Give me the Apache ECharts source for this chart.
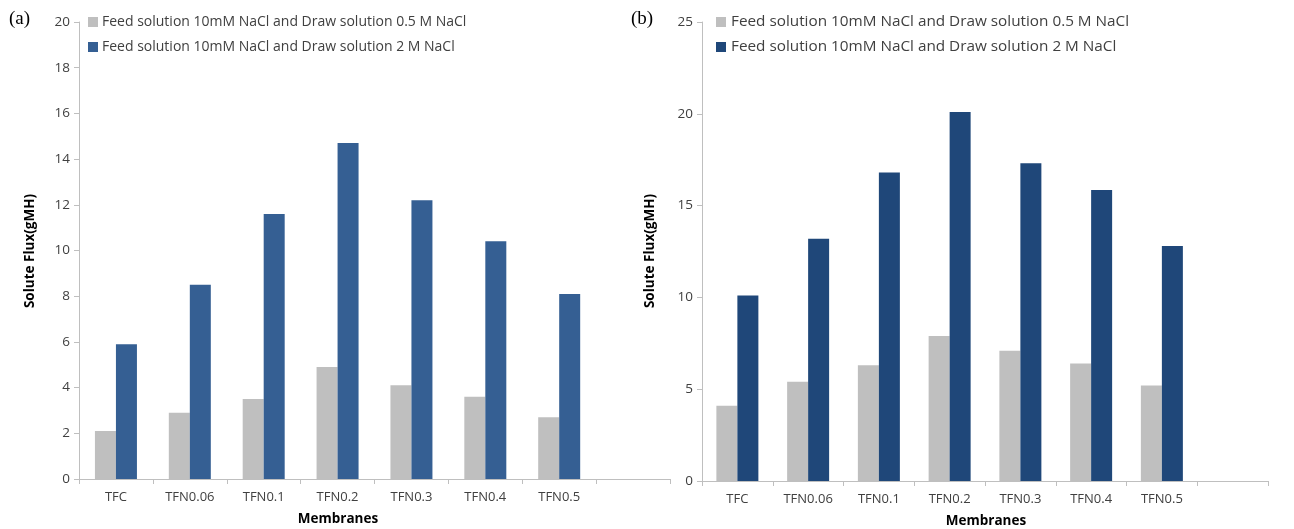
<!DOCTYPE html>
<html><head><meta charset="utf-8">
<script src="https://cdn.jsdelivr.net/npm/echarts@6/dist/echarts.min.js"></script>
<style>html,body{margin:0;padding:0;background:#fff}#c{width:1294px;height:529px}</style>
</head><body><div id="c"></div>
<script>
const categories = ['TFC','TFN0.06','TFN0.1','TFN0.2','TFN0.3','TFN0.4','TFN0.5',''];
const seriesNames = ['Feed solution 10mM NaCl and Draw solution 0.5 M NaCl','Feed solution 10mM NaCl and Draw solution 2 M NaCl'];
const aLow = [2.1, 2.9, 3.5, 4.9, 4.1, 3.6, 2.7];
const aHigh = [5.9, 8.5, 11.6, 14.7, 12.2, 10.4, 8.1];
const bLow = [4.1, 5.4, 6.3, 7.9, 7.1, 6.4, 5.2];
const bHigh = [10.1, 13.2, 16.8, 20.1, 17.3, 15.85, 12.8];
const yTitle = 'Solute Flux(gMH)';
const xTitle = 'Membranes';

const FONT = 'Open Sans';
const axisCol = '#bfbfbf';
const gray = '#bfbfbf';
const blueA = '#355f93';
const blueB = '#1f4779';

function xAxis(gi){return {type:'category',gridIndex:gi,data:categories,
  axisLine:{lineStyle:{color:axisCol,width:1}},axisTick:{show:true,length:5,lineStyle:{color:axisCol}},
  axisLabel:{color:'#404040',fontFamily:FONT,fontSize:13,margin:12}};}
function yAxis(gi,max,iv){return {type:'value',gridIndex:gi,min:0,max:max,interval:iv,
  axisLine:{show:true,lineStyle:{color:axisCol}},axisTick:{show:true,length:5,lineStyle:{color:axisCol}},
  splitLine:{show:false},axisLabel:{color:'#404040',fontFamily:FONT,fontSize:13.5,margin:9}};}
function bar(name,data,color,gi){return {name:name,type:'bar',xAxisIndex:gi,yAxisIndex:gi,data:data,
  barWidth:21,barGap:'0%',itemStyle:{color:color},animation:false};}

const chart = echarts.init(document.getElementById('c'));
chart.setOption({
  animation:false,
  grid:[{left:79,top:22,bottom:50,right:624},{left:702,top:22,bottom:48,right:26}],
  xAxis:[xAxis(0),xAxis(1)],
  yAxis:[yAxis(0,20,2),yAxis(1,25,5)],
  title:[
    {text:'(a)',left:4,top:5,textStyle:{fontFamily:'Liberation Serif',fontSize:19,fontWeight:'normal',color:'#000'}},
    {text:'(b)',left:626,top:5,textStyle:{fontFamily:'Liberation Serif',fontSize:19,fontWeight:'normal',color:'#000'}}
  ],
  graphic:[
    {type:'text',x:30,y:251,rotation:Math.PI/2,style:{text:yTitle,fill:'#000',font:'bold 13.5px "Open Sans"',textAlign:'center',textVerticalAlign:'middle'}},
    {type:'text',x:650,y:251,rotation:Math.PI/2,style:{text:yTitle,fill:'#000',font:'bold 13.5px "Open Sans"',textAlign:'center',textVerticalAlign:'middle'}},
    {type:'text',x:338,y:519,style:{text:xTitle,fill:'#000',font:'bold 13.5px "Open Sans"',textAlign:'center',textVerticalAlign:'middle'}},
    {type:'text',x:986,y:521,style:{text:xTitle,fill:'#000',font:'bold 13.5px "Open Sans"',textAlign:'center',textVerticalAlign:'middle'}},
    {type:'rect',x:88,y:17,shape:{width:10,height:10},style:{fill:gray}},
    {type:'rect',x:88,y:42,shape:{width:10,height:10},style:{fill:blueA}},
    {type:'text',x:102,y:22,style:{text:seriesNames[0],fill:'#404040',font:'14px "Open Sans"',textVerticalAlign:'middle'}},
    {type:'text',x:102,y:47,style:{text:seriesNames[1],fill:'#404040',font:'14px "Open Sans"',textVerticalAlign:'middle'}},
    {type:'rect',x:716,y:17,shape:{width:10,height:10},style:{fill:gray}},
    {type:'rect',x:716,y:42,shape:{width:10,height:10},style:{fill:blueB}},
    {type:'text',x:731,y:22,style:{text:seriesNames[0],fill:'#404040',font:'15.3px "Open Sans"',textVerticalAlign:'middle'}},
    {type:'text',x:731,y:47,style:{text:seriesNames[1],fill:'#404040',font:'15.3px "Open Sans"',textVerticalAlign:'middle'}}
  ],
  series:[bar(seriesNames[0],aLow,gray,0),bar(seriesNames[1],aHigh,blueA,0),
          bar(seriesNames[0]+' ',bLow,gray,1),bar(seriesNames[1]+' ',bHigh,blueB,1)]
});
</script></body></html>
